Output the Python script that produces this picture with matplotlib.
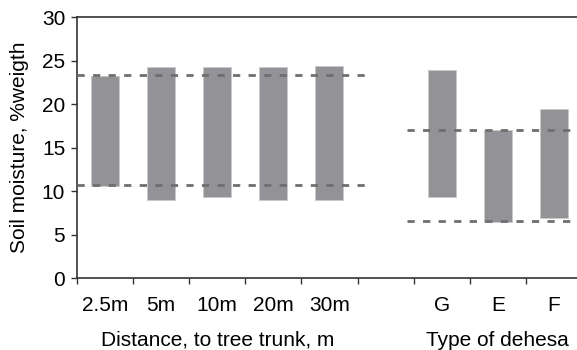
import matplotlib.pyplot as plt
import matplotlib
import numpy as np

matplotlib.rcParams.update({
    'font.family': ['Liberation Sans', 'DejaVu Sans'],
    'font.size': 15,
})

# soil moisture ranges (min - max), %weight
dist_labels = ['2.5m', '5m', '10m', '20m', '30m']
dist_low = [10.6, 9.0, 9.3, 9.0, 9.0]
dist_high = [23.2, 24.3, 24.3, 24.3, 24.4]
dist_ref = [10.7, 23.3]

dehesa_labels = ['G', 'E', 'F']
dehesa_low = [9.35, 6.4, 6.9]
dehesa_high = [23.9, 17.0, 19.4]
dehesa_ref = [6.5, 17.0]

fig = plt.figure(figsize=(5.77, 3.5), dpi=100)
ax = fig.add_axes([0.1335, 0.2057, 0.875, 0.7457])

bar_col = '#939397'
line_col = '#6f6f6f'

x_dist = np.arange(len(dist_labels)) + 0.5
x_deh = np.arange(len(dehesa_labels)) + len(dist_labels) + 1.5

ax.bar(x_dist, np.array(dist_high) - np.array(dist_low), bottom=dist_low,
       width=0.5, color=bar_col, edgecolor='#c8c8c8', linewidth=0.6, zorder=2)
ax.bar(x_deh, np.array(dehesa_high) - np.array(dehesa_low), bottom=dehesa_low,
       width=0.5, color=bar_col, edgecolor='#c8c8c8', linewidth=0.6, zorder=2)

for v in dist_ref:
    ax.plot([0, 5.17], [v, v], color=line_col, lw=2, dashes=(2.6, 3.0), zorder=3)
for v in dehesa_ref:
    ax.plot([5.88, 9], [v, v], color=line_col, lw=2, dashes=(2.6, 3.0), zorder=3)

ax.set_xlim(0, 9)
ax.set_ylim(0, 30)
ax.set_yticks(np.arange(0, 31, 5))

ax.set_xticks(np.arange(0, 10))
ax.set_xticklabels([])
ax.set_xticks(np.concatenate([x_dist, x_deh]), minor=True)
ax.set_xticklabels(dist_labels + dehesa_labels, minor=True)
ax.tick_params(axis='x', which='minor', length=0, pad=13)
ax.tick_params(axis='x', which='major', length=4.5, width=1, color='#333333')
ax.tick_params(axis='y', length=4.5, width=1, color='#333333', pad=4)

for s in ax.spines.values():
    s.set_color('#333333')
    s.set_linewidth(1.2)

ax.set_ylabel('Soil moisture, %weigth', labelpad=9)

ax.text(2.5, -7.15, 'Distance, to tree trunk, m', ha='center', va='center')
ax.text(7.5, -7.15, 'Type of dehesa', ha='center', va='center')

fig.savefig('out.png', dpi=100)
